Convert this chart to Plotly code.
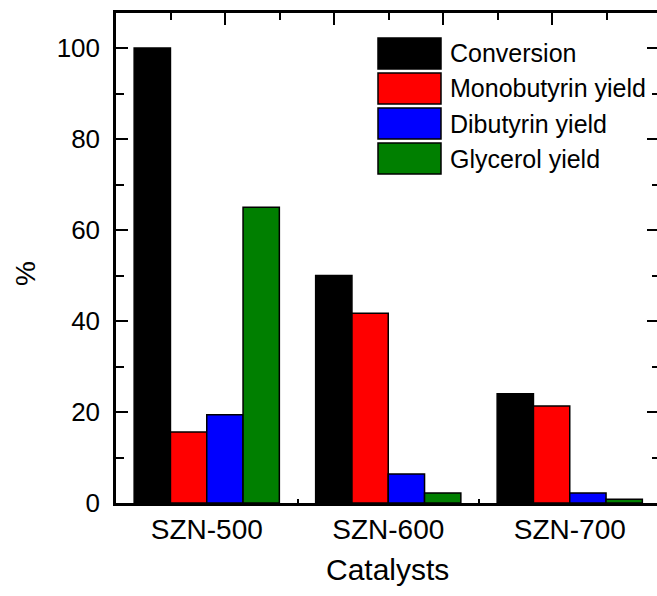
import plotly.graph_objects as go

catalysts = ["SZN-500", "SZN-600", "SZN-700"]
series_names = ["Conversion", "Monobutyrin yield", "Dibutyrin yield", "Glycerol yield"]
conversion = [100.0, 50.0, 24.0]
monobutyrin = [15.6, 41.7, 21.3]
dibutyrin = [19.4, 6.4, 2.2]
glycerol = [65.0, 2.2, 0.8]
colors = ["#000000", "#ff0000", "#0000ff", "#007f00"]

W, H = 657, 596
L, T, B = 116, 13, 503
R = 657
PW, PH = R - L, B - T
YMAX = 107.7

FONT = "Liberation Sans, Arial, sans-serif"

fig = go.Figure()
for name, vals, col in zip(series_names, [conversion, monobutyrin, dibutyrin, glycerol], colors):
    fig.add_trace(go.Bar(x=catalysts, y=vals, name=name, marker_color=col,
                         marker_line_color="#000000", marker_line_width=1.5,
                         showlegend=False))

# dummy trace for mirrored axes
fig.add_trace(go.Scatter(x=[0], y=[0], xaxis="x2", yaxis="y2", mode="markers",
                         marker_opacity=0, showlegend=False, hoverinfo="skip"))

def px2x(p):
    return (p - L) / PW

def px2y(p):
    return (B - p) / PH

shapes = []
annotations = []
box_tops = [38, 73, 108, 143]
for name, col, top in zip(series_names, colors, box_tops):
    shapes.append(dict(type="rect", xref="paper", yref="paper",
                       x0=px2x(378), x1=px2x(441), y0=px2y(top + 31), y1=px2y(top),
                       fillcolor=col, line=dict(color="#000000", width=1.5)))
    annotations.append(dict(xref="paper", yref="paper", x=px2x(448), y=px2y(top + 15.5),
                            text=name, showarrow=False, xanchor="left", yanchor="middle",
                            font=dict(family=FONT, size=25, color="#000000")))

annotations.append(dict(xref="paper", yref="paper", x=px2x(387), y=px2y(569),
                        text="Catalysts", showarrow=False, xanchor="center", yanchor="middle",
                        font=dict(family=FONT, size=30, color="#000000")))
annotations.append(dict(xref="paper", yref="paper", x=px2x(25), y=px2y(274),
                        text="%", showarrow=False, xanchor="center", yanchor="middle",
                        textangle=-90, font=dict(family=FONT, size=28, color="#000000")))

fig.update_layout(
    width=W, height=H,
    margin=dict(l=L, r=W - R, t=T, b=H - B, pad=0),
    paper_bgcolor="white", plot_bgcolor="white",
    barmode="group", bargap=0.2, bargroupgap=0.0,
    font=dict(family=FONT, color="#000000"),
    shapes=shapes, annotations=annotations,
    xaxis=dict(range=[-0.5, -0.5 + PW / 181.5], showgrid=False, zeroline=False,
               showline=True, linecolor="#000000", linewidth=2.5,
               ticks="inside", tickson="boundaries", ticklen=4, tickwidth=1.5,
               tickcolor="#000000", tickfont=dict(family=FONT, size=28),
               ticklabelstandoff=0),
    yaxis=dict(range=[0, YMAX], dtick=20, tick0=0, showgrid=False, zeroline=False,
               showline=True, linecolor="#000000", linewidth=2.5,
               ticks="inside", ticklen=12, tickwidth=2, tickcolor="#000000",
               minor=dict(dtick=10, ticks="inside", ticklen=8, tickwidth=2, tickcolor="#000000"),
               tickfont=dict(family=FONT, size=26), ticklabelstandoff=8),
    xaxis2=dict(overlaying="x", side="top", range=[0, PW / 109.0], dtick=1, tick0=0,
                showgrid=False, zeroline=False, showline=True, linecolor="#000000",
                linewidth=2.5, ticks="inside", ticklen=12, tickwidth=2, tickcolor="#000000",
                minor=dict(dtick=0.5, ticks="inside", ticklen=7, tickwidth=2, tickcolor="#000000"),
                showticklabels=False),
    yaxis2=dict(overlaying="y", side="right", range=[0, YMAX], dtick=20, tick0=0,
                showgrid=False, zeroline=False, showline=False,
                ticks="inside", ticklen=10, tickwidth=2, tickcolor="#000000",
                minor=dict(dtick=10, ticks="inside", ticklen=5, tickwidth=2, tickcolor="#000000"),
                showticklabels=False),
)

fig.write_html("out.html")
